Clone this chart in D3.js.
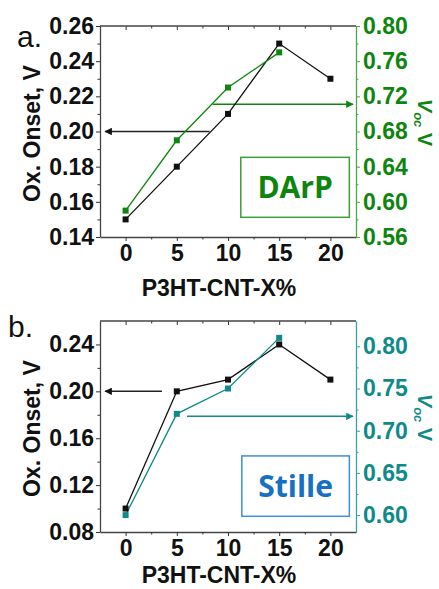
<!DOCTYPE html>
<html>
<head>
<meta charset="utf-8">
<script src="https://cdn.jsdelivr.net/npm/d3@7"></script>
<style>
  body { margin: 0; background: #fff; }
  text { font-family: "Liberation Sans", Arial, sans-serif; }
</style>
</head>
<body>
<script>
const xCats = [0, 5, 10, 15, 20]
const xMinor = [2.5, 7.5, 12.5, 17.5]

// panel a (DArP)
const onsetA = [0.15, 0.18, 0.21, 0.25, 0.23]
const vocA = [0.59, 0.67, 0.73, 0.77]
const leftTicksA = [0.14, 0.16, 0.18, 0.20, 0.22, 0.24, 0.26]
const leftMinorA = [0.15, 0.17, 0.19, 0.21, 0.23, 0.25]
const rightTicksA = [0.56, 0.60, 0.64, 0.68, 0.72, 0.76, 0.80]
const rightMinorA = [0.58, 0.62, 0.66, 0.70, 0.74, 0.78]

// panel b (Stille)
const onsetB = [0.10, 0.20, 0.21, 0.24, 0.21]
const vocB = [0.60, 0.72, 0.75, 0.81]
const leftTicksB = [0.08, 0.12, 0.16, 0.20, 0.24]
const leftMinorB = [0.10, 0.14, 0.18, 0.22]
const rightTicksB = [0.60, 0.65, 0.70, 0.75, 0.80]
const rightMinorB = [0.625, 0.675, 0.725, 0.775]

const panels = [
	{
		tag: 'a.', name: 'DArP', top: 26, bottom: 237, xLabelY: 296,
		left: [0.14, 0.26], right: [0.56, 0.80],
		onset: onsetA, voc: vocA,
		leftTicks: leftTicksA, leftMinor: leftMinorA,
		rightTicks: rightTicksA, rightMinor: rightMinorA,
		color: '#0e850e', axisColor: '#4aa84a', nameColor: '#0e850e', boxColor: '#3c9e3c',
		blackArrow: { y: 0.20, x0: 8.2, x1: -2.0 },
		colorArrow: { y: 0.711, x0: 8.5, x1: 22.2 },
		box: { x0: 11.25, x1: 21.85, y0: 0.1853, y1: 0.1512 },
		tagPos: [17, 47]
	},
	{
		tag: 'b.', name: 'Stille', top: 321, bottom: 532, xLabelY: 583,
		left: [0.08, 0.26], right: [0.58, 0.83],
		onset: onsetB, voc: vocB,
		leftTicks: leftTicksB, leftMinor: leftMinorB,
		rightTicks: rightTicksB, rightMinor: rightMinorB,
		color: '#0f8a8a', axisColor: '#3aa0a0', nameColor: '#1670c4', boxColor: '#3f8fd6',
		blackArrow: { y: 0.20, x0: 3.55, x1: -2.0 },
		colorArrow: { y: 0.717, x0: 6.0, x1: 22.2 },
		box: { x0: 11.35, x1: 21.85, y0: 0.1449, y1: 0.0934 },
		tagPos: [8, 337]
	}
]

const plotLeft = 100
const plotRight = 356
const fmt = d3.format('.2f')
const font = '"Liberation Sans", Arial, sans-serif'

const svg = d3.select('body').append('svg')
	.attr('width', 439)
	.attr('height', 589)

const defs = svg.append('defs')
function arrowMarker(id, color) {
	defs.append('marker')
		.attr('id', id)
		.attr('viewBox', '0 0 10 10')
		.attr('refX', 9).attr('refY', 5)
		.attr('markerWidth', 7).attr('markerHeight', 5)
		.attr('markerUnits', 'strokeWidth')
		.attr('orient', 'auto')
	.append('path')
		.attr('d', 'M0,0 L10,5 L0,10 Z')
		.attr('fill', color)
}

const x = d3.scaleLinear().domain([-2.5, 22.5]).range([plotLeft, plotRight])

function minorAxis(g, axis, pos, color) {
	g.append('g')
		.attr('transform', pos)
		.call(axis.tickSize(2.5).tickFormat(''))
		.call(a => a.select('.domain').remove())
		.selectAll('line').attr('stroke', color)
}

panels.forEach((p, i) => {
	const yL = d3.scaleLinear().domain(p.left).range([p.bottom, p.top])
	const yR = d3.scaleLinear().domain(p.right).range([p.bottom, p.top])
	const g = svg.append('g')
	arrowMarker('arrK' + i, '#111')
	arrowMarker('arrC' + i, p.color)

	// frame top (ticks inside)
	g.append('g')
		.attr('transform', `translate(0,${p.top})`)
		.call(d3.axisBottom(x).tickValues(xCats).tickSize(4).tickFormat(''))
		.call(a => a.select('.domain').remove())
		.selectAll('line').attr('stroke', '#333')
	minorAxis(g, d3.axisBottom(x).tickValues(xMinor), `translate(0,${p.top})`, '#333')
	g.append('line')
		.attr('x1', plotLeft).attr('x2', plotRight)
		.attr('y1', p.top).attr('y2', p.top)
		.attr('stroke', '#444').attr('stroke-width', 1.3)

	// bottom x axis
	const xa = g.append('g')
		.attr('transform', `translate(0,${p.bottom})`)
		.call(d3.axisBottom(x).tickValues(xCats).tickSize(4).tickPadding(4).tickSizeOuter(0))
	xa.select('.domain').attr('stroke', '#444').attr('stroke-width', 1.3)
	xa.selectAll('line').attr('stroke', '#333')
	xa.selectAll('text').attr('font-size', 23).attr('font-weight', 'bold').attr('fill', '#111')
		.style('font-family', font)
	minorAxis(g, d3.axisBottom(x).tickValues(xMinor), `translate(0,${p.bottom})`, '#333')

	// left axis
	const la = g.append('g')
		.attr('transform', `translate(${plotLeft},0)`)
		.call(d3.axisLeft(yL).tickValues(p.leftTicks).tickSize(4).tickPadding(2).tickSizeOuter(0).tickFormat(fmt))
	la.select('.domain').attr('stroke', '#444').attr('stroke-width', 1.3)
	la.selectAll('line').attr('stroke', '#333')
	la.selectAll('text').attr('font-size', 23).attr('font-weight', 'bold').attr('fill', '#111')
		.style('font-family', font)
	minorAxis(g, d3.axisLeft(yL).tickValues(p.leftMinor), `translate(${plotLeft},0)`, '#333')

	// right axis
	const ra = g.append('g')
		.attr('transform', `translate(${plotRight},0)`)
		.call(d3.axisRight(yR).tickValues(p.rightTicks).tickSize(4).tickPadding(3).tickSizeOuter(0).tickFormat(fmt))
	ra.select('.domain').attr('stroke', p.axisColor).attr('stroke-width', 1.3)
	ra.selectAll('line').attr('stroke', p.axisColor)
	ra.selectAll('text').attr('font-size', 23).attr('font-weight', 'bold').attr('fill', p.color)
		.style('font-family', font)
	minorAxis(g, d3.axisRight(yR).tickValues(p.rightMinor), `translate(${plotRight},0)`, p.axisColor)

	// labels
	g.append('text')
		.attr('transform', `translate(40,${(p.top + p.bottom) / 2 + 2}) rotate(-90)`)
		.attr('text-anchor', 'middle')
		.attr('font-size', 23).attr('font-weight', 'bold').attr('fill', '#111')
		.text('Ox. Onset, V')

	const rl = g.append('text')
		.attr('transform', `translate(418,${(p.top + p.bottom) / 2 - 9}) rotate(90)`)
		.attr('text-anchor', 'middle')
		.attr('font-size', 20).attr('font-weight', 'bold').attr('fill', p.color)
	rl.append('tspan').attr('font-style', 'italic').text('V')
	rl.append('tspan').attr('font-style', 'italic').attr('font-size', 13).attr('dy', 4).text('oc')
	rl.append('tspan').attr('dy', -4).text(' V')

	g.append('text')
		.attr('x', (plotLeft + plotRight) / 2 - 9)
		.attr('y', p.xLabelY)
		.attr('text-anchor', 'middle')
		.attr('font-size', 23).attr('font-weight', 'bold').attr('fill', '#111')
		.text('P3HT-CNT-X%')

	g.append('text')
		.attr('x', p.tagPos[0]).attr('y', p.tagPos[1])
		.attr('font-size', 30).attr('fill', '#111')
		.text(p.tag)

	// arrows
	g.append('line')
		.attr('x1', x(p.blackArrow.x0)).attr('x2', x(p.blackArrow.x1))
		.attr('y1', yL(p.blackArrow.y)).attr('y2', yL(p.blackArrow.y))
		.attr('stroke', '#222').attr('stroke-width', 1.5)
		.attr('marker-end', `url(#arrK${i})`)
	g.append('line')
		.attr('x1', x(p.colorArrow.x0)).attr('x2', x(p.colorArrow.x1))
		.attr('y1', yR(p.colorArrow.y)).attr('y2', yR(p.colorArrow.y))
		.attr('stroke', p.color).attr('stroke-width', 1.5)
		.attr('marker-end', `url(#arrC${i})`)

	// box with sample name
	g.append('rect')
		.attr('x', x(p.box.x0)).attr('y', yL(p.box.y0))
		.attr('width', x(p.box.x1) - x(p.box.x0))
		.attr('height', yL(p.box.y1) - yL(p.box.y0))
		.attr('fill', 'none').attr('stroke', p.boxColor).attr('stroke-width', 1.5)
	g.append('text')
		.attr('x', (x(p.box.x0) + x(p.box.x1)) / 2)
		.attr('y', (yL(p.box.y0) + yL(p.box.y1)) / 2 + 11)
		.attr('text-anchor', 'middle')
		.attr('font-size', 30).attr('font-weight', 'bold').attr('fill', p.nameColor)
		.style('font-family', '"Open Sans", sans-serif')
		.text(p.name)

	// series
	const lineK = d3.line().x((d, j) => x(xCats[j])).y(d => yL(d))
	const lineC = d3.line().x((d, j) => x(xCats[j])).y(d => yR(d))
	g.append('path').attr('d', lineK(p.onset))
		.attr('fill', 'none').attr('stroke', '#111').attr('stroke-width', 1.3)
	g.append('path').attr('d', lineC(p.voc))
		.attr('fill', 'none').attr('stroke', p.color).attr('stroke-width', 1.3)
	g.selectAll('.mk').data(p.onset).enter().append('rect')
		.attr('x', (d, j) => x(xCats[j]) - 3).attr('y', d => yL(d) - 3)
		.attr('width', 6).attr('height', 6).attr('fill', '#111')
	g.selectAll('.mc').data(p.voc).enter().append('rect')
		.attr('x', (d, j) => x(xCats[j]) - 3).attr('y', d => yR(d) - 3)
		.attr('width', 6).attr('height', 6).attr('fill', p.color)
})
</script>
</body>
</html>
